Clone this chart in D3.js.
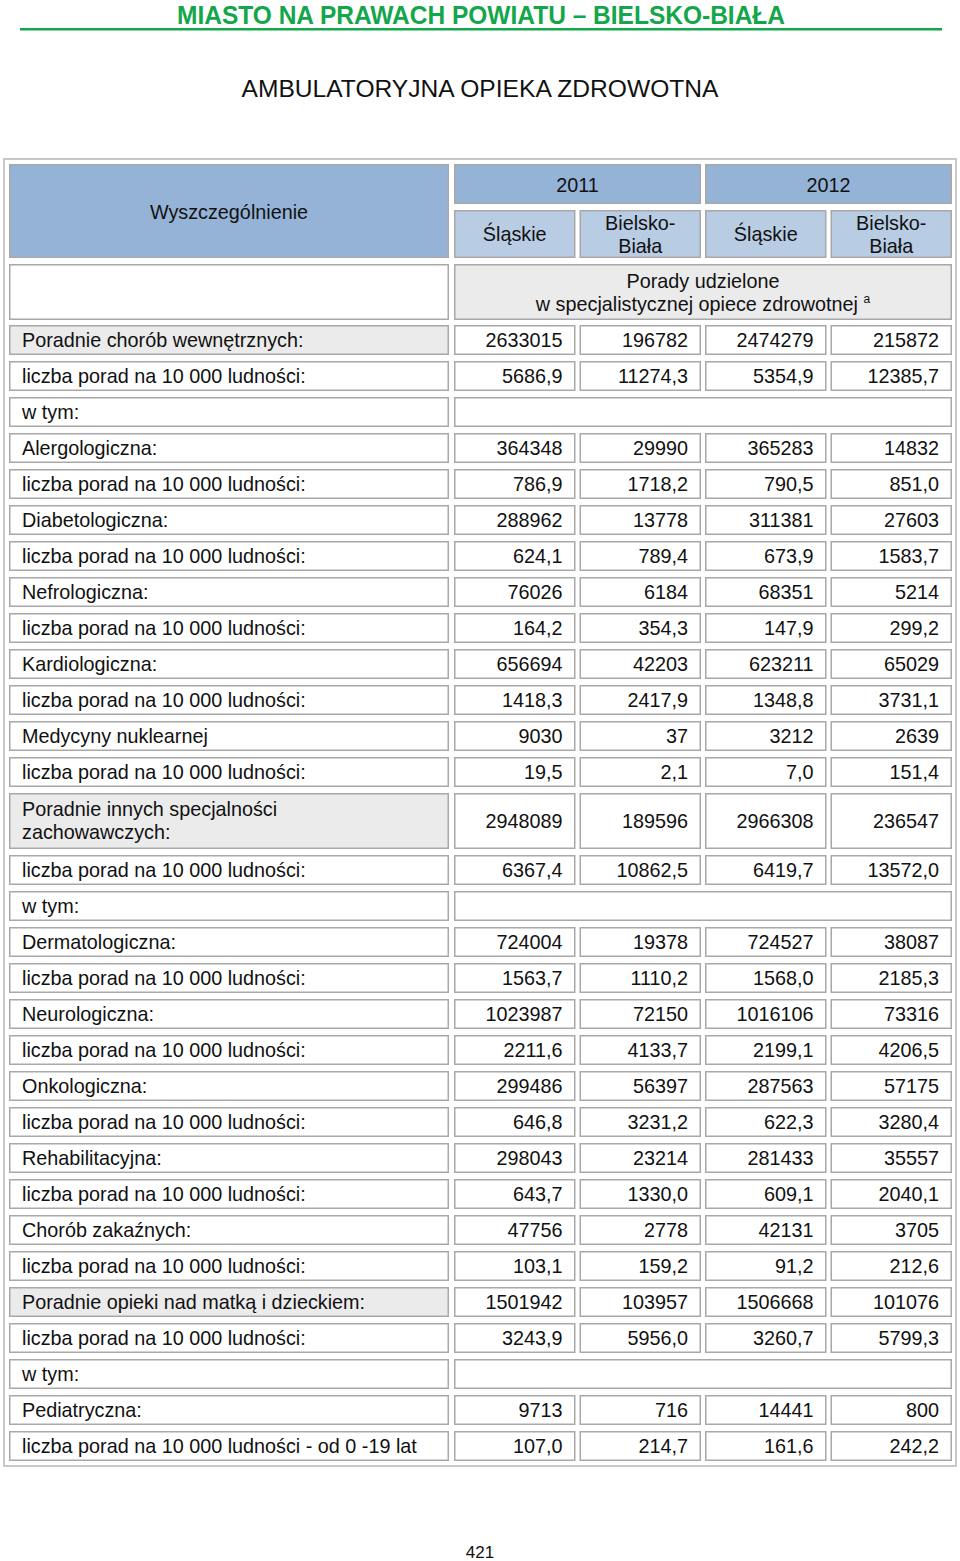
<!DOCTYPE html>
<html>
<head>
	<meta charset="utf-8">
	<title>Ambulatoryjna opieka zdrowotna</title>
	<script src="https://cdn.jsdelivr.net/npm/d3@7"></script>
	<style>
		body { margin: 0; background: #fff; }
		svg text { font-family: "Liberation Sans", Arial, sans-serif; fill: #111; }
	</style>
</head>
<body>
	<svg id="chart" width="960" height="1561"></svg>

	<script>
		// row labels (text), kind: main = grey label, sub = white label, wtym = empty data row
		var labels = [
			'Poradnie chorób wewnętrznych:', 'liczba porad na 10 000 ludności:', 'w tym:',
			'Alergologiczna:', 'liczba porad na 10 000 ludności:',
			'Diabetologiczna:', 'liczba porad na 10 000 ludności:',
			'Nefrologiczna:', 'liczba porad na 10 000 ludności:',
			'Kardiologiczna:', 'liczba porad na 10 000 ludności:',
			'Medycyny nuklearnej', 'liczba porad na 10 000 ludności:',
			'Poradnie innych specjalności|zachowawczych:', 'liczba porad na 10 000 ludności:', 'w tym:',
			'Dermatologiczna:', 'liczba porad na 10 000 ludności:',
			'Neurologiczna:', 'liczba porad na 10 000 ludności:',
			'Onkologiczna:', 'liczba porad na 10 000 ludności:',
			'Rehabilitacyjna:', 'liczba porad na 10 000 ludności:',
			'Chorób zakaźnych:', 'liczba porad na 10 000 ludności:',
			'Poradnie opieki nad matką i dzieckiem:', 'liczba porad na 10 000 ludności:', 'w tym:',
			'Pediatryczna:', 'liczba porad na 10 000 ludności - od 0 -19 lat'
		];
		var kinds = [
			'main', 'rate', 'wtym', 'sub', 'rate', 'sub', 'rate', 'sub', 'rate', 'sub', 'rate', 'sub', 'rate',
			'main', 'rate', 'wtym', 'sub', 'rate', 'sub', 'rate', 'sub', 'rate', 'sub', 'rate', 'sub', 'rate',
			'main', 'rate', 'wtym', 'sub', 'rate'
		];

		var slaskie2011 = [2633015, 5686.9, null, 364348, 786.9, 288962, 624.1, 76026, 164.2, 656694, 1418.3, 9030, 19.5,
			2948089, 6367.4, null, 724004, 1563.7, 1023987, 2211.6, 299486, 646.8, 298043, 643.7, 47756, 103.1,
			1501942, 3243.9, null, 9713, 107.0];
		var bielsko2011 = [196782, 11274.3, null, 29990, 1718.2, 13778, 789.4, 6184, 354.3, 42203, 2417.9, 37, 2.1,
			189596, 10862.5, null, 19378, 1110.2, 72150, 4133.7, 56397, 3231.2, 23214, 1330.0, 2778, 159.2,
			103957, 5956.0, null, 716, 214.7];
		var slaskie2012 = [2474279, 5354.9, null, 365283, 790.5, 311381, 673.9, 68351, 147.9, 623211, 1348.8, 3212, 7.0,
			2966308, 6419.7, null, 724527, 1568.0, 1016106, 2199.1, 287563, 622.3, 281433, 609.1, 42131, 91.2,
			1506668, 3260.7, null, 14441, 161.6];
		var bielsko2012 = [215872, 12385.7, null, 14832, 851.0, 27603, 1583.7, 5214, 299.2, 65029, 3731.1, 2639, 151.4,
			236547, 13572.0, null, 38087, 2185.3, 73316, 4206.5, 57175, 3280.4, 35557, 2040.1, 3705, 212.6,
			101076, 5799.3, null, 800, 242.2];

		var years = ['2011', '2012'];
		var columns = ['Śląskie 2011', 'Bielsko-Biała 2011', 'Śląskie 2012', 'Bielsko-Biała 2012'];
		var series = [slaskie2011, bielsko2011, slaskie2012, bielsko2012];

		var svg = d3.select('#chart');
		var darkBlue = '#95b3d7', lightBlue = '#b8cce4', grey = '#ebebeb', line = '#a8a8a8';
		var fs = 19.8;

		// page heading
		svg.append('text')
			.attr('x', 481).attr('y', 24)
			.attr('text-anchor', 'middle')
			.attr('textLength', 608).attr('lengthAdjust', 'spacingAndGlyphs')
			.style('font-family', '"Liberation Sans Narrow", "Liberation Sans", sans-serif')
			.style('font-weight', 'bold').style('font-size', '26px').style('fill', '#14a64b')
			.text('MIASTO NA PRAWACH POWIATU – BIELSKO-BIAŁA');
		svg.append('rect').attr('x', 20).attr('y', 28).attr('width', 922).attr('height', 2.5).attr('fill', '#14a64b');

		svg.append('text')
			.attr('x', 480).attr('y', 97)
			.attr('text-anchor', 'middle')
			.attr('textLength', 477).attr('lengthAdjust', 'spacingAndGlyphs')
			.style('font-size', '23px')
			.text('AMBULATORYJNA OPIEKA ZDROWOTNA');

		// scales
		var x = d3.scaleBand().domain(columns).range([454, 952]).paddingInner(0.032);
		var xYear = d3.scaleBand().domain(years).range([454, 952]).paddingInner(0.016);
		var labelX0 = 9, labelX1 = 449;

		var heights = labels.map(l => l.indexOf('|') >= 0 ? 56 : 30);
		var tops = [], acc = 325;
		heights.forEach(h => { tops.push(acc); acc += h + 6; });
		var y = d3.scaleOrdinal().domain(d3.range(labels.length)).range(tops);

		// outer table frame
		svg.append('rect').attr('x', 4).attr('y', 159).attr('width', 952).attr('height', acc - 6 + 5 - 159)
			.attr('fill', 'none').attr('stroke', '#c8c8c8').attr('stroke-width', 2);

		function cell(x0, y0, w, h, fill) {
			return svg.append('rect')
				.attr('x', x0 + 0.75).attr('y', y0 + 0.75)
				.attr('width', w - 1.5).attr('height', h - 1.5)
				.attr('fill', fill).attr('stroke', line).attr('stroke-width', 1.5);
		}
		function label(tx, ty, txt, anchor) {
			return svg.append('text').attr('x', tx).attr('y', ty)
				.attr('text-anchor', anchor || 'start')
				.style('font-size', fs + 'px').text(txt);
		}

		// header
		cell(labelX0, 164, labelX1 - labelX0, 94, darkBlue);
		label((labelX0 + labelX1) / 2, 219, 'Wyszczególnienie', 'middle');
		years.forEach(yr => {
			cell(xYear(yr), 164, xYear.bandwidth(), 40, darkBlue);
			label(xYear(yr) + xYear.bandwidth() / 2, 192, yr, 'middle');
		});
		columns.forEach((c, i) => {
			cell(x(c), 210, x.bandwidth(), 48, lightBlue);
			var cx = x(c) + x.bandwidth() / 2;
			if (i % 2 === 0) {
				label(cx, 241, 'Śląskie', 'middle');
			} else {
				label(cx, 230, 'Bielsko-', 'middle');
				label(cx, 253, 'Biała', 'middle');
			}
		});
		cell(labelX0, 264, labelX1 - labelX0, 56, '#fff');
		cell(454, 264, 498, 56, grey);
		label(703, 288, 'Porady udzielone', 'middle');
		var t = label(703, 311, 'w specjalistycznej opiece zdrowotnej ', 'middle');
		t.append('tspan').attr('dy', -8).style('font-size', '12px').text('a');

		// body
		var fmtRate = v => d3.format('.1f')(v).replace('.', ',');
		labels.forEach((l, i) => {
			var top = y(i), h = heights[i], k = kinds[i];
			cell(labelX0, top, labelX1 - labelX0, h, k === 'main' ? grey : '#fff');
			var parts = l.split('|');
			if (parts.length > 1) {
				label(22, top + 23, parts[0]);
				label(22, top + 46, parts[1]);
			} else {
				label(22, top + h / 2 + 7, l);
			}
			if (k === 'wtym') {
				cell(454, top, 498, h, '#fff');
				return;
			}
			series.forEach((s, j) => {
				var c = columns[j];
				cell(x(c), top, x.bandwidth(), h, '#fff');
				var v = s[i];
				label(x(c) + x.bandwidth() - 13, top + h / 2 + 7, k === 'rate' ? fmtRate(v) : String(v), 'end');
			});
		});

		svg.append('text').attr('x', 480).attr('y', 1558).attr('text-anchor', 'middle')
			.style('font-size', '17px').text('421');
	</script>
</body>
</html>
